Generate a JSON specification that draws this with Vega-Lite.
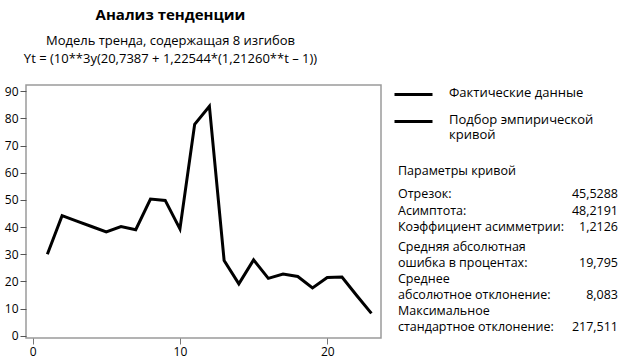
{
  "$schema": "https://vega.github.io/schema/vega-lite/v6.json",
  "padding": {"left": 3, "top": 7, "right": 5, "bottom": 5},
  "background": "white",
  "config": {"font": "Open Sans", "view": {"stroke": null}},
  "bounds": "flush",
  "spacing": 17,
  "hconcat": [
    {
      "width": 355,
      "height": 253,
      "view": {"stroke": "#9a9a9a", "strokeWidth": 1.5},
      "title": {
        "text": "Анализ тенденции",
        "subtitle": ["Модель тренда, содержащая 8 изгибов", "Yt = (10**3y(20,7387 + 1,22544*(1,21260**t – 1))"],
        "fontSize": 15,
        "fontWeight": "bold",
        "color": "black",
        "subtitleFontSize": 13,
        "subtitleColor": "black",
        "subtitleLineHeight": 18,
        "subtitlePadding": 12,
        "anchor": "middle",
        "dx": -33,
        "offset": 19
      },
      "data": {
        "values": [
          {"t": 1, "y": 30.0, "series": "Фактические данные"},
          {"t": 2, "y": 44.2, "series": "Фактические данные"},
          {"t": 3, "y": 42.2, "series": "Фактические данные"},
          {"t": 4, "y": 40.2, "series": "Фактические данные"},
          {"t": 5, "y": 38.2, "series": "Фактические данные"},
          {"t": 6, "y": 40.2, "series": "Фактические данные"},
          {"t": 7, "y": 39.0, "series": "Фактические данные"},
          {"t": 8, "y": 50.3, "series": "Фактические данные"},
          {"t": 9, "y": 49.8, "series": "Фактические данные"},
          {"t": 10, "y": 39.3, "series": "Фактические данные"},
          {"t": 11, "y": 77.8, "series": "Фактические данные"},
          {"t": 12, "y": 84.5, "series": "Фактические данные"},
          {"t": 13, "y": 27.7, "series": "Фактические данные"},
          {"t": 14, "y": 19.1, "series": "Фактические данные"},
          {"t": 15, "y": 27.9, "series": "Фактические данные"},
          {"t": 16, "y": 21.1, "series": "Фактические данные"},
          {"t": 17, "y": 22.7, "series": "Фактические данные"},
          {"t": 18, "y": 21.8, "series": "Фактические данные"},
          {"t": 19, "y": 17.6, "series": "Фактические данные"},
          {"t": 20, "y": 21.4, "series": "Фактические данные"},
          {"t": 21, "y": 21.6, "series": "Фактические данные"},
          {"t": 22, "y": 14.8, "series": "Фактические данные"},
          {"t": 23, "y": 8.2, "series": "Фактические данные"}
        ]
      },
      "mark": {"type": "line", "strokeWidth": 3, "strokeJoin": "miter"},
      "encoding": {
        "x": {
          "field": "t",
          "type": "quantitative",
          "scale": {"domain": [-0.45, 23.65], "nice": false, "zero": false},
          "axis": {"values": [0, 10, 20], "title": null, "grid": false, "domain": false, "tickColor": "#777", "tickSize": 6, "labelFontSize": 12, "labelColor": "black", "labelPadding": 2}
        },
        "y": {
          "field": "y",
          "type": "quantitative",
          "scale": {"domain": [-0.85, 92.3], "nice": false, "zero": false},
          "axis": {"values": [0, 10, 20, 30, 40, 50, 60, 70, 80, 90], "title": null, "grid": false, "domain": false, "tickColor": "#555", "tickSize": 6, "labelFontSize": 12, "labelColor": "black", "labelPadding": 2}
        },
        "color": {
          "field": "series",
          "type": "nominal",
          "scale": {"domain": ["Фактические данные", "Подбор эмпирической кривой"], "range": ["black", "black"]},
          "legend": {
            "orient": "none",
            "legendX": 367,
            "legendY": -11,
            "title": null,
            "symbolType": "stroke",
            "symbolStrokeWidth": 3,
            "symbolSize": 1444,
            "labelFontSize": 13,
            "labelColor": "black",
            "labelOffset": 15,
            "labelBaseline": "top",
            "rowPadding": -5,
            "labelLimit": 200,
            "labelExpr": "datum.label == 'Подбор эмпирической кривой' ? ['Подбор эмпирической', 'кривой'] : datum.label",
            "encode": {"labels": {"update": {"dy": {"value": -8}, "lineHeight": {"value": 15}}}}
          }
        }
      }
    },
    {
      "width": 220,
      "height": 253,
      "view": {"stroke": null},
      "layer": [
        {
          "data": {"values": [{"row": "Параметры кривой"}]},
          "mark": {"type": "text", "align": "left", "fontSize": 12.5, "color": "black"},
          "encoding": {
            "y": {"field": "row", "type": "nominal", "sort": null, "scale": {"type": "point", "range": [85.5, 85.5], "padding": 0}, "axis": null},
            "x": {"datum": 0, "type": "quantitative", "scale": {"domain": [0, 1]}, "axis": null},
            "text": {"field": "row"}
          }
        },
        {
          "data": {
            "values": [
              {"param": "Отрезок:", "value": "45,5288"},
              {"param": "Асимптота:", "value": "48,2191"},
              {"param": "Коэффициент асимметрии:", "value": "1,2126"}
            ]
          },
          "encoding": {
            "y": {"field": "param", "type": "nominal", "sort": null, "scale": {"type": "point", "range": [109, 142], "padding": 0}, "axis": null}
          },
          "layer": [
            {
              "mark": {"type": "text", "align": "left", "fontSize": 12.5, "color": "black"},
              "encoding": {"x": {"datum": 0, "type": "quantitative", "scale": {"domain": [0, 1]}, "axis": null}, "text": {"field": "param"}}
            },
            {
              "mark": {"type": "text", "align": "right", "fontSize": 12.5, "color": "black"},
              "encoding": {"x": {"datum": 1, "type": "quantitative", "scale": {"domain": [0, 1]}, "axis": null}, "text": {"field": "value"}}
            }
          ]
        },
        {
          "data": {
            "values": [
              {"param": "Средняя абсолютная", "value": ""},
              {"param": "ошибка в процентах:", "value": "19,795"},
              {"param": "Среднее", "value": ""},
              {"param": "абсолютное отклонение:", "value": "8,083"},
              {"param": "Максимальное", "value": ""},
              {"param": "стандартное отклонение:", "value": "217,511"}
            ]
          },
          "encoding": {
            "y": {"field": "param", "type": "nominal", "sort": null, "scale": {"type": "point", "range": [162, 242], "padding": 0}, "axis": null}
          },
          "layer": [
            {
              "mark": {"type": "text", "align": "left", "fontSize": 12.5, "color": "black"},
              "encoding": {"x": {"datum": 0, "type": "quantitative", "scale": {"domain": [0, 1]}, "axis": null}, "text": {"field": "param"}}
            },
            {
              "mark": {"type": "text", "align": "right", "fontSize": 12.5, "color": "black"},
              "encoding": {"x": {"datum": 1, "type": "quantitative", "scale": {"domain": [0, 1]}, "axis": null}, "text": {"field": "value"}}
            }
          ]
        }
      ],
      "resolve": {"scale": {"y": "independent"}}
    }
  ]
}
